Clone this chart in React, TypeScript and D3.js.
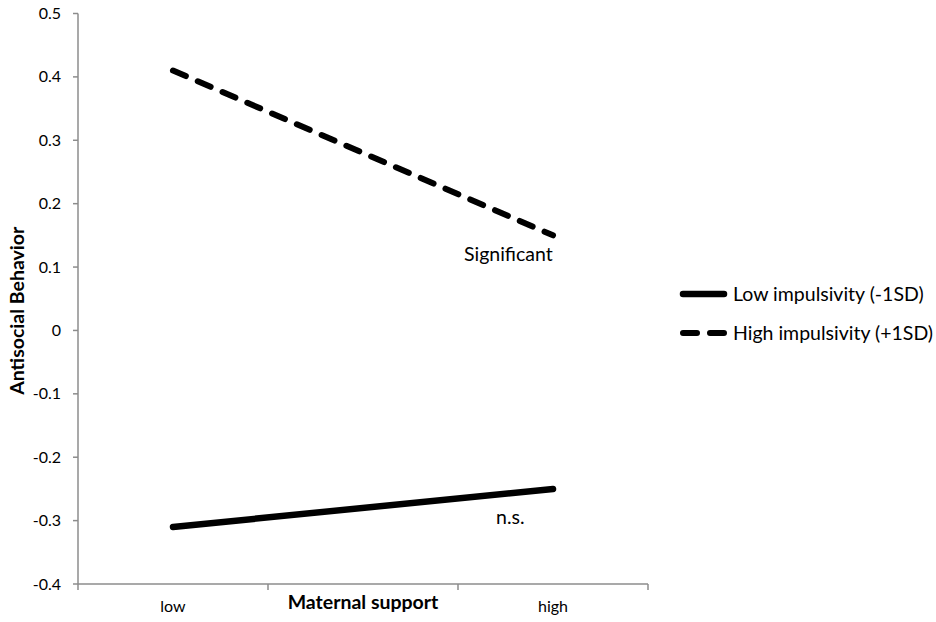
import React from "react";
import * as d3 from "d3";

const categories = ["low", "Maternal support", "high"];
const pointCategories = ["low", "high"];
const seriesNames = ["Low impulsivity (-1SD)", "High impulsivity (+1SD)"];
const lowImpulsivity = [-0.31, -0.25];
const highImpulsivity = [0.41, 0.15];
const yTicks = [-0.4, -0.3, -0.2, -0.1, 0, 0.1, 0.2, 0.3, 0.4, 0.5];
const annotations = [
  { text: "Significant", cat: "high", value: 0.15 },
  { text: "n.s.", cat: "high", value: -0.25 },
];

const W = 936;
const H = 622;
const FONT = "Lato, 'Open Sans', sans-serif";
const AXIS = "#8c8c8c";

const fmt = (t: number) => (Math.abs(t) < 1e-9 ? "0" : t.toFixed(1));

export default function App() {
  const x = d3.scaleBand<string>().domain(categories).range([78, 648]).padding(0);
  const y = d3.scaleLinear().domain([-0.4, 0.5]).range([584, 13.5]);
  const cx = (c: string) => (x(c) as number) + x.bandwidth() / 2;

  const line = d3
    .line<[string, number]>()
    .x((d) => cx(d[0]))
    .y((d) => y(d[1]));

  const solidData: [string, number][] = pointCategories.map((c, i) => [c, lowImpulsivity[i]]);
  const dashData: [string, number][] = pointCategories.map((c, i) => [c, highImpulsivity[i]]);

  const boundaries = [...categories.map((c) => x(c) as number), 648];

  return (
    <svg
      width={W}
      height={H}
      style={{ position: "absolute", left: 0, top: 0, background: "#fff" }}
      fontFamily={FONT}
    >
      {/* y axis */}
      <line x1={78} x2={78} y1={y(0.5)} y2={y(-0.4)} stroke={AXIS} strokeWidth={1.5} />
      {yTicks.map((t) => (
        <g key={t}>
          <line x1={73} x2={78} y1={y(t)} y2={y(t)} stroke={AXIS} strokeWidth={1.5} />
          <text x={61} y={y(t)} dy="0.35em" textAnchor="end" fontSize={16} fill="#000">
            {fmt(t)}
          </text>
        </g>
      ))}
      {/* x axis */}
      <line x1={78} x2={648} y1={y(-0.4)} y2={y(-0.4)} stroke={AXIS} strokeWidth={1.5} />
      {boundaries.map((b, i) => (
        <line key={i} x1={b} x2={b} y1={y(-0.4)} y2={y(-0.4) + 6} stroke={AXIS} strokeWidth={1.5} />
      ))}
      {categories.map((c) =>
        c === "Maternal support" ? (
          <text key={c} x={cx(c)} y={609} textAnchor="middle" fontSize={19.5} fontWeight="bold">
            {c}
          </text>
        ) : (
          <text key={c} x={cx(c)} y={612} textAnchor="middle" fontSize={16}>
            {c}
          </text>
        )
      )}
      {/* y title */}
      <text
        transform={`translate(24, ${(y(0.5) + y(-0.4)) / 2 + 12}) rotate(-90)`}
        textAnchor="middle"
        fontSize={19.5}
        fontWeight="bold"
      >
        Antisocial Behavior
      </text>

      {/* series */}
      <path d={line(solidData) as string} fill="none" stroke="#000" strokeWidth={6.5} strokeLinecap="round" />
      <path
        d={line(dashData) as string}
        fill="none"
        stroke="#000"
        strokeWidth={6}
        strokeLinecap="round"
        strokeDasharray="14 13"
      />

      {/* annotations */}
      <text x={cx(annotations[0].cat) - 89} y={y(annotations[0].value) + 26} fontSize={19.5}>
        {annotations[0].text}
      </text>
      <text x={cx(annotations[1].cat) - 57} y={y(annotations[1].value) + 35} fontSize={19.5}>
        {annotations[1].text}
      </text>

      {/* legend */}
      {seriesNames.map((s, i) => {
        const ly = 294 + i * 39;
        return (
          <g key={s}>
            <line
              x1={683}
              x2={724}
              y1={ly}
              y2={ly}
              stroke="#000"
              strokeWidth={i === 0 ? 6.5 : 6}
              strokeLinecap="round"
              strokeDasharray={i === 0 ? undefined : "14 13"}
            />
            <text x={733} y={ly} dy="0.35em" fontSize={19.5}>
              {s}
            </text>
          </g>
        );
      })}
    </svg>
  );
}
